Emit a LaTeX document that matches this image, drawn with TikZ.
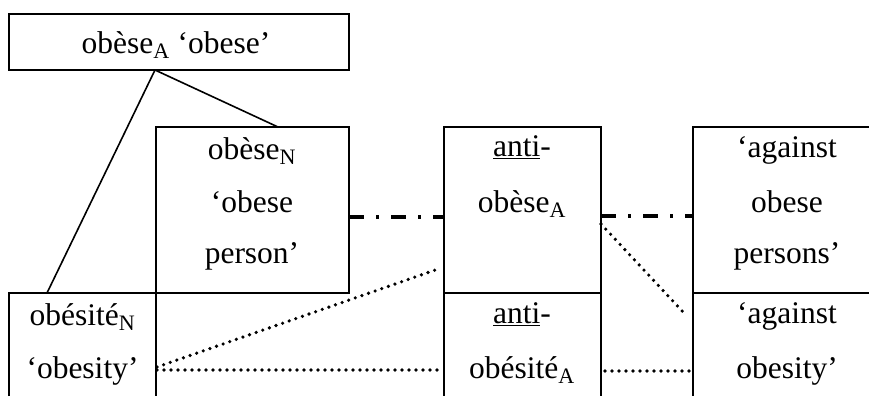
\documentclass[tikz,border=0pt]{standalone}
\usepackage{fontspec}
\setmainfont{Liberation Serif}
\begin{document}
\begin{tikzpicture}[x=1pt,y=-1pt,
  box/.style={line width=2pt},
  link/.style={line width=1.6pt},
  lbl/.style={anchor=base,inner sep=0pt,font=\fontsize{31.5}{36}\selectfont},
  dashdotline/.style={line width=3.2pt,dash pattern=on 15pt off 12pt on 3pt off 12pt},
  dotline/.style={line width=3.6pt,line cap=round,dash pattern=on 0pt off 7pt}]
\useasboundingbox (0,0) rectangle (869,396);
% boxes
\draw[box] (9,14) rectangle (349,70);
\draw[box] (156,127) rectangle (349,293);
\draw[box] (9,396) -- (9,293) -- (156,293);
\draw[box] (156,293) -- (156,396);
\draw[box] (444,127) rectangle (601,293);
\draw[box] (444,293) -- (444,396);
\draw[box] (601,293) -- (601,396);
\draw[box] (869,127) -- (693,127) -- (693,396);
\draw[box] (693,293) -- (869,293);
% labels
\node[lbl] (obeseA) at (176,53) {obèse\textsubscript{A} ‘obese’};
\node[lbl] (obeseN1) at (252,159) {obèse\textsubscript{N}};
\node[lbl] (obeseN2) at (252,212) {‘obese};
\node[lbl] (obeseN3) at (252,263) {person’};
\node[lbl] (obesite1) at (82.5,325) {obésité\textsubscript{N}};
\node[lbl] (obesite2) at (82.5,378) {‘obesity’};
\node[lbl] (antiA1) at (522,156) {\underline{anti}-};
\node[lbl] (antiA2) at (522,212) {obèse\textsubscript{A}};
\node[lbl] (antiB1) at (522,323) {\underline{anti}-};
\node[lbl] (antiB2) at (522,378) {obésité\textsubscript{A}};
\node[lbl] (agA1) at (787,157) {‘against};
\node[lbl] (agA2) at (787,212) {obese};
\node[lbl] (agA3) at (787,263) {persons’};
\node[lbl] (agB1) at (787,323) {‘against};
\node[lbl] (agB2) at (787,378) {obesity’};
% connector end points
\coordinate (topfork) at (155,70);
\coordinate (obeseNtop) at (278,127);
\coordinate (obesitetop) at (47,293);
\coordinate (obeseNright) at (349,217);
\coordinate (antiAleft) at (444,217);
\coordinate (antiAright) at (601,216);
\coordinate (agAleft) at (693,216);
\coordinate (obesiteR1) at (157,367);
\coordinate (antiAleftlow) at (441,268);
\coordinate (obesiteR2) at (157,370);
\coordinate (antiBleft) at (441,370);
\coordinate (antiArightlow) at (601,224);
\coordinate (agBleft) at (684,313);
\coordinate (antiBright) at (605,371);
\coordinate (agBleftlow) at (690,371);
% connectors
\draw[link] (topfork) -- (obeseNtop);
\draw[link] (topfork) -- (obesitetop);
\draw[dashdotline] (obeseNright) -- (antiAleft);
\draw[dashdotline] (antiAright) -- (agAleft);
\draw[dotline] (obesiteR1) -- (antiAleftlow);
\draw[dotline] (obesiteR2) -- (antiBleft);
\draw[dotline] (antiArightlow) -- (agBleft);
\draw[dotline] (antiBright) -- (agBleftlow);
\end{tikzpicture}
\end{document}
